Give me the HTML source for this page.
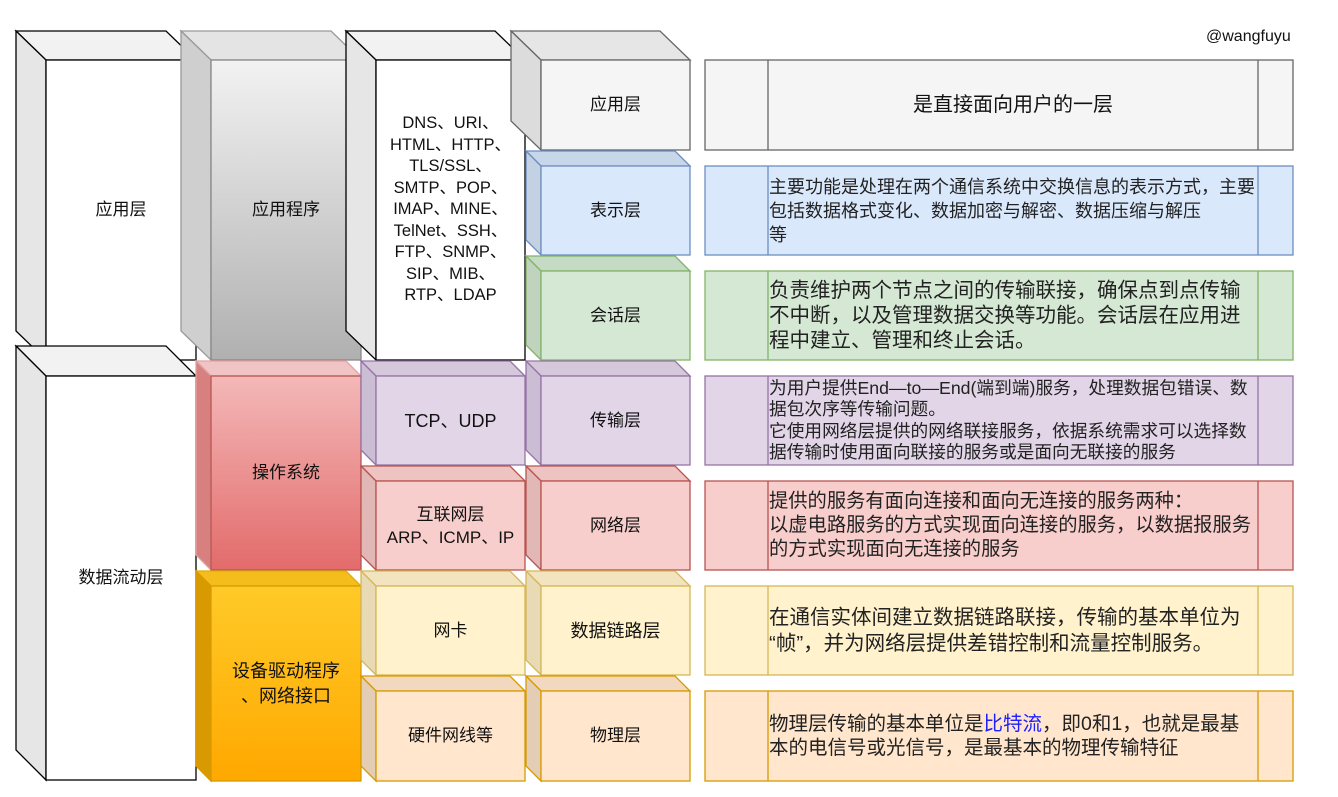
<!DOCTYPE html>
<html><head><meta charset="utf-8"><style>
body{margin:0;background:#fff;width:1338px;height:797px;overflow:hidden;position:relative;font-family:"Liberation Sans","Noto Sans CJK SC",sans-serif;color:#111}
svg{position:absolute;left:0;top:0}
.t{position:absolute;display:flex;align-items:center;justify-content:center;text-align:center;font-size:17px;line-height:22px;white-space:nowrap}
.r{position:absolute;left:769px;width:500px;display:flex;align-items:center;color:#222;white-space:nowrap}
</style></head><body>
<svg width="1338" height="797" xmlns="http://www.w3.org/2000/svg">
<defs>
<linearGradient id="g1" x1="0" y1="0" x2="0" y2="1"><stop offset="0" stop-color="#f2f2f2"/><stop offset="1" stop-color="#b0b0b0"/></linearGradient>
<linearGradient id="g2" x1="0" y1="0" x2="0" y2="1"><stop offset="0" stop-color="#f4b8b8"/><stop offset="1" stop-color="#e36b6b"/></linearGradient>
<linearGradient id="g3" x1="0" y1="0" x2="0" y2="1"><stop offset="0" stop-color="#ffca28"/><stop offset="1" stop-color="#ffa800"/></linearGradient>
</defs>
<g stroke-width="1.3">
<polygon points="16,31 166,31 196,60 46,60" fill="#f2f2f2" stroke="#000"/>
<polygon points="16,31 46,60 46,360 16,331" fill="#e6e6e6" stroke="#000"/>
<rect x="46" y="60" width="150" height="300" fill="#fff" stroke="#000"/>
<polygon points="16,346 166,346 196,376 46,376" fill="#f2f2f2" stroke="#000"/>
<polygon points="16,346 46,376 46,780 16,750" fill="#e6e6e6" stroke="#000"/>
<rect x="46" y="376" width="150" height="404" fill="#fff" stroke="#000"/>
<polygon points="181,31 331,31 361,60 211,60" fill="#e4e4e4" stroke="#999"/>
<polygon points="181,31 211,60 211,360 181,331" fill="#cfcfcf" stroke="#999"/>
<rect x="211" y="60" width="150" height="300" fill="url(#g1)" stroke="#888"/>
<polygon points="346,31 495,31 525,60 376,60" fill="#f2f2f2" stroke="#000"/>
<polygon points="346,31 376,60 376,360 346,331" fill="#e6e6e6" stroke="#000"/>
<rect x="376" y="60" width="149" height="300" fill="#fff" stroke="#000"/>
<polygon points="511,31 660,31 690,60 541,60" fill="#e6e6e6" stroke="#666"/>
<polygon points="511,31 541,60 541,150 511,121" fill="#dcdcdc" stroke="#666"/>
<rect x="541" y="60" width="149" height="90" fill="#f5f5f5" stroke="#666"/>
<polygon points="526,151 675,151 690,166 541,166" fill="#c8d6ea" stroke="#6c8ebf"/>
<polygon points="526,151 541,166 541,255 526,240" fill="#c4d1e3" stroke="#6c8ebf"/>
<rect x="541" y="166" width="149" height="89" fill="#dae8fc" stroke="#6c8ebf"/>
<polygon points="526,256 675,256 690,271 541,271" fill="#c6dbc5" stroke="#82b366"/>
<polygon points="526,256 541,271 541,360 526,345" fill="#c0d3bf" stroke="#82b366"/>
<rect x="541" y="271" width="149" height="89" fill="#d5e8d4" stroke="#82b366"/>
<polygon points="196,361 346,361 361,376 211,376" fill="#f0c4c4" stroke="#e8a0a0"/>
<polygon points="196,361 211,376 211,570 196,555" fill="#d88080" stroke="#e0a0a0"/>
<rect x="211" y="376" width="150" height="194" fill="url(#g2)" stroke="#b85450"/>
<polygon points="361,361 510,361 525,376 376,376" fill="#d5c8db" stroke="#9673a6"/>
<polygon points="361,361 376,376 376,465 361,450" fill="#cbbdd3" stroke="#9673a6"/>
<rect x="376" y="376" width="149" height="89" fill="#e1d5e7" stroke="#9673a6"/>
<polygon points="526,361 675,361 690,376 541,376" fill="#d5c8db" stroke="#9673a6"/>
<polygon points="526,361 541,376 541,465 526,450" fill="#cbbdd3" stroke="#9673a6"/>
<rect x="541" y="376" width="149" height="89" fill="#e1d5e7" stroke="#9673a6"/>
<polygon points="361,466 510,466 525,481 376,481" fill="#eec4c2" stroke="#b85450"/>
<polygon points="361,466 376,481 376,570 361,555" fill="#e2b8b6" stroke="#b85450"/>
<rect x="376" y="481" width="149" height="89" fill="#f8cecc" stroke="#b85450"/>
<polygon points="526,466 675,466 690,481 541,481" fill="#eec4c2" stroke="#b85450"/>
<polygon points="526,466 541,481 541,570 526,555" fill="#e2b8b6" stroke="#b85450"/>
<rect x="541" y="481" width="149" height="89" fill="#f8cecc" stroke="#b85450"/>
<polygon points="196,571 346,571 361,586 211,586" fill="#f5bd1c" stroke="#e0b000"/>
<polygon points="196,571 211,586 211,781 196,766" fill="#d89a00" stroke="#d79b00"/>
<rect x="211" y="586" width="150" height="195" fill="url(#g3)" stroke="#d79b00"/>
<polygon points="361,571 510,571 525,586 376,586" fill="#f1e4bf" stroke="#d6b656"/>
<polygon points="361,571 376,586 376,675 361,660" fill="#e8dab5" stroke="#d6b656"/>
<rect x="376" y="586" width="149" height="89" fill="#fff2cc" stroke="#d6b656"/>
<polygon points="526,571 675,571 690,586 541,586" fill="#f1e4bf" stroke="#d6b656"/>
<polygon points="526,571 541,586 541,675 526,660" fill="#e8dab5" stroke="#d6b656"/>
<rect x="541" y="586" width="149" height="89" fill="#fff2cc" stroke="#d6b656"/>
<polygon points="361,676 510,676 525,691 376,691" fill="#f1d8bf" stroke="#d79b00"/>
<polygon points="361,676 376,691 376,781 361,766" fill="#e4cdb5" stroke="#d79b00"/>
<rect x="376" y="691" width="149" height="90" fill="#ffe6cc" stroke="#d79b00"/>
<polygon points="526,676 675,676 690,691 541,691" fill="#f1d8bf" stroke="#d79b00"/>
<polygon points="526,676 541,691 541,781 526,766" fill="#e4cdb5" stroke="#d79b00"/>
<rect x="541" y="691" width="149" height="90" fill="#ffe6cc" stroke="#d79b00"/>
<rect x="705" y="60" width="588" height="90" fill="#f5f5f5" stroke="#666"/><path d="M768 60V150M1258 60V150" stroke="#666"/>
<rect x="705" y="166" width="588" height="89" fill="#dae8fc" stroke="#6c8ebf"/><path d="M768 166V255M1258 166V255" stroke="#6c8ebf"/>
<rect x="705" y="271" width="588" height="89" fill="#d5e8d4" stroke="#82b366"/><path d="M768 271V360M1258 271V360" stroke="#82b366"/>
<rect x="705" y="376" width="588" height="89" fill="#e1d5e7" stroke="#9673a6"/><path d="M768 376V465M1258 376V465" stroke="#9673a6"/>
<rect x="705" y="481" width="588" height="89" fill="#f8cecc" stroke="#b85450"/><path d="M768 481V570M1258 481V570" stroke="#b85450"/>
<rect x="705" y="586" width="588" height="89" fill="#fff2cc" stroke="#d6b656"/><path d="M768 586V675M1258 586V675" stroke="#d6b656"/>
<rect x="705" y="691" width="588" height="90" fill="#ffe6cc" stroke="#d79b00"/><path d="M768 691V781M1258 691V781" stroke="#d79b00"/>
</g>
</svg>
<div class="t" style="left:46px;top:60px;width:150px;height:300px">应用层</div>
<div class="t" style="left:46px;top:376px;width:150px;height:404px">数据流动层</div>
<div class="t" style="left:211px;top:60px;width:150px;height:300px">应用程序</div>
<div class="t" style="left:376px;top:60px;width:149px;height:300px;line-height:21.5px;font-size:16.5px">DNS、URI、<br>HTML、HTTP、<br>TLS/SSL、<br>SMTP、POP、<br>IMAP、MINE、<br>TelNet、SSH、<br>FTP、SNMP、<br>SIP、MIB、<br>RTP、LDAP</div>
<div class="t" style="left:541px;top:60px;width:149px;height:90px">应用层</div>
<div class="t" style="left:541px;top:166px;width:149px;height:89px">表示层</div>
<div class="t" style="left:541px;top:271px;width:149px;height:89px">会话层</div>
<div class="t" style="left:211px;top:376px;width:150px;height:194px">操作系统</div>
<div class="t" style="left:376px;top:376px;width:149px;height:89px;font-size:18px">TCP、UDP</div>
<div class="t" style="left:541px;top:376px;width:149px;height:89px">传输层</div>
<div class="t" style="left:376px;top:481px;width:149px;height:89px;font-size:17px;line-height:23px">互联网层<br>ARP、ICMP、IP</div>
<div class="t" style="left:541px;top:481px;width:149px;height:89px">网络层</div>
<div class="t" style="left:211px;top:586px;width:150px;height:195px;font-size:18px;line-height:25px">设备驱动程序<br>、网络接口</div>
<div class="t" style="left:376px;top:586px;width:149px;height:89px">网卡</div>
<div class="t" style="left:541px;top:586px;width:149px;height:89px;font-size:18px">数据链路层</div>
<div class="t" style="left:376px;top:691px;width:149px;height:90px">硬件网线等</div>
<div class="t" style="left:541px;top:691px;width:149px;height:90px">物理层</div>
<div style="position:absolute;left:1206px;top:28px;font-size:16px">@wangfuyu</div>
<div class="t" style="left:768px;top:60px;width:490px;height:90px;font-size:20px">是直接面向用户的一层</div>
<div class="r" style="top:166px;height:89px;font-size:18px;line-height:24px"><div>主要功能是处理在两个通信系统中交换信息的表示方式，主要<br>包括数据格式变化、数据加密与解密、数据压缩与解压<br>等</div></div>
<div class="r" style="top:271px;height:89px;font-size:20.5px;line-height:25px"><div>负责维护两个节点之间的传输联接，确保点到点传输<br>不中断，以及管理数据交换等功能。会话层在应用进<br>程中建立、管理和终止会话。</div></div>
<div class="r" style="top:376px;height:89px;font-size:17.7px;line-height:21.5px"><div>为用户提供End—to—End(端到端)服务，处理数据包错误、数<br>据包次序等传输问题。<br>它使用网络层提供的网络联接服务，依据系统需求可以选择数<br>据传输时使用面向联接的服务或是面向无联接的服务</div></div>
<div class="r" style="top:481px;height:89px;font-size:19.3px;line-height:24px"><div>提供的服务有面向连接和面向无连接的服务两种：<br>以虚电路服务的方式实现面向连接的服务，以数据报服务<br>的方式实现面向无连接的服务</div></div>
<div class="r" style="top:586px;height:89px;font-size:20.5px;line-height:26px"><div>在通信实体间建立数据链路联接，传输的基本单位为<br>“帧”，并为网络层提供差错控制和流量控制服务。</div></div>
<div class="r" style="top:691px;height:90px;font-size:19.5px;line-height:24px"><div>物理层传输的基本单位是<span style="color:#2020ff">比特流</span>，即0和1，也就是最基<br>本的电信号或光信号，是最基本的物理传输特征</div></div>
</body></html>
